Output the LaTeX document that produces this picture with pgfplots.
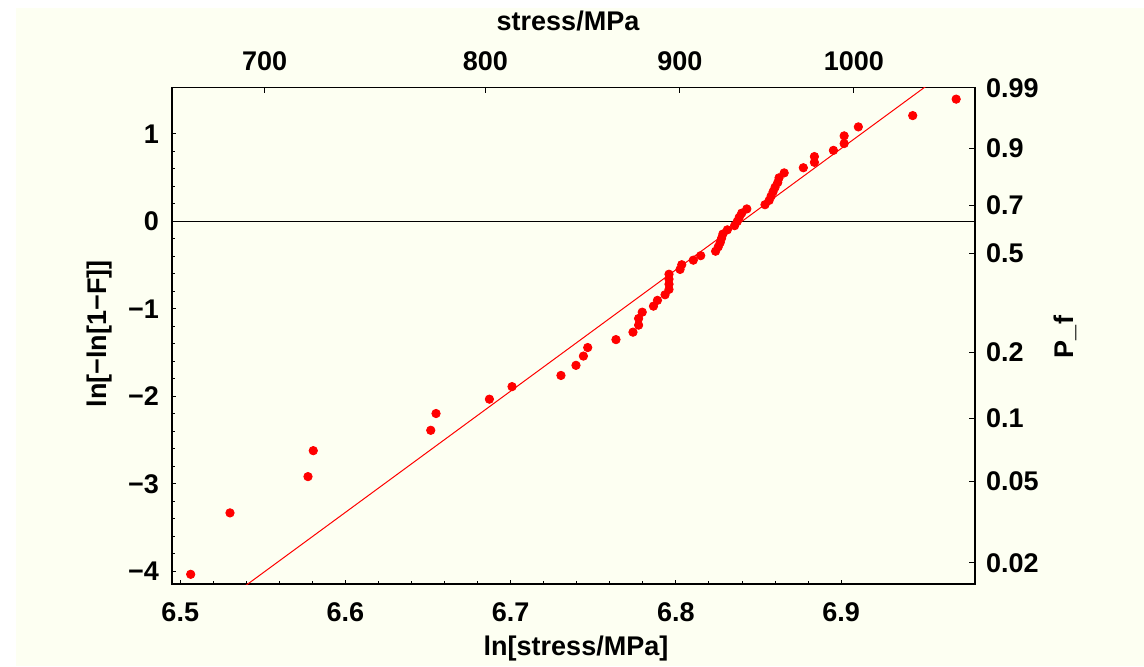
\documentclass[border=0pt]{standalone}
\usepackage{fontspec}
\setmainfont{Liberation Sans}
\usepackage{pgfplots}
\pgfplotsset{compat=1.18}
\definecolor{paper}{RGB}{253,255,242}
\definecolor{ptred}{RGB}{255,0,0}

\pgfplotsset{
  wb/.style={
    scale only axis, width=401.5pt, height=248.25pt,
    at={(86pt,41pt)}, anchor=south west,
    xmin=6.495, xmax=6.981, ymin=-4.145, ymax=1.53,
    tick align=inside,
    ticklabel style={font=\fontsize{13.5}{15}\selectfont\bfseries},
    axis line style={line width=0.6pt},
    major tick length=2.2pt, minor tick length=1.3pt,
    tick style={black, line width=0.5pt},
  }
}

\begin{document}
\begin{tikzpicture}[x=1pt,y=1pt]
\fill[white] (0,0) rectangle (572,333);
\fill[paper] (7.8,0) rectangle (572,329.2);

% top and right scales (stress in MPa, failure probability)
\begin{axis}[wb,
  xtick={6.551080,6.684612,6.802395,6.907755},
  xticklabels={700,800,900,1000},
  ytick={-3.901939,-2.970195,-2.250367,-1.499940,-0.366513,0.185627,0.834032,1.527180},
  yticklabels={0.02,0.05,0.1,0.2,0.5,0.7,0.9,0.99},
  xtick pos=right, ytick pos=right, xticklabel pos=right, yticklabel pos=right,
  major tick length=2.8pt,
  xticklabel style={yshift=5pt},
  yticklabel style={xshift=2pt},
  axis line style={draw=none}]
\end{axis}

\begin{axis}[wb,
  xtick={6.5,6.6,6.7,6.8,6.9}, xticklabels={6.5,6.6,6.7,6.8,6.9},
  ytick={-4,-3,-2,-1,0,1}, yticklabels={−4,−3,−2,−1,0,1},
  minor x tick num=4, minor y tick num=4,
  xtick pos=left, ytick pos=left,
  xticklabel style={yshift=-6pt},
  yticklabel style={xshift=-3pt}]
\draw[black, line width=0.6pt] (axis cs:6.495,0) -- (axis cs:6.981,0);
\addplot[ptred, line width=0.5pt] coordinates {(6.49,-4.850) (6.99,2.080)};
\addplot[only marks, mark=*, mark size=2.1pt, mark options={draw=ptred, fill=ptred}] coordinates {
(6.5063,-4.0342) (6.5301,-3.3321) (6.5773,-2.9175) (6.5805,-2.6207)
(6.6516,-2.3881) (6.6548,-2.1963) (6.6871,-2.0324) (6.7008,-1.8890)
(6.7304,-1.7612) (6.7395,-1.6456) (6.7440,-1.5399) (6.7466,-1.4423)
(6.7637,-1.3515) (6.7740,-1.2664) (6.7774,-1.1862) (6.7774,-1.1103)
(6.7796,-1.0380) (6.7864,-0.9690) (6.7888,-0.9027) (6.7934,-0.8390)
(6.7958,-0.7775) (6.7958,-0.7180) (6.7958,-0.6603) (6.7958,-0.6041)
(6.8025,-0.5493) (6.8035,-0.4958) (6.8105,-0.4434) (6.8150,-0.3919)
(6.8240,-0.3413) (6.8256,-0.2914) (6.8268,-0.2421) (6.8276,-0.1934)
(6.8284,-0.1450) (6.8311,-0.0970) (6.8355,-0.0492) (6.8371,-0.0015)
(6.8383,0.0462) (6.8398,0.0940) (6.8429,0.1421) (6.8539,0.1905)
(6.8564,0.2394) (6.8576,0.2889) (6.8588,0.3393) (6.8600,0.3907)
(6.8616,0.4435) (6.8624,0.4978) (6.8655,0.5541) (6.8771,0.6129)
(6.8838,0.6747) (6.8838,0.7405) (6.8953,0.8115) (6.9018,0.8893)
(6.9018,0.9771) (6.9104,1.0799) (6.9433,1.2089) (6.9696,1.3970)
};
\end{axis}

\node[font=\fontsize{13.5}{15}\selectfont\bfseries, anchor=base] at (288,5.3) {ln[stress/MPa]};
\node[font=\fontsize{13.5}{15}\selectfont\bfseries, anchor=base] at (284,317.5) {stress/MPa};
\node[font=\fontsize{13.5}{15}\selectfont\bfseries, rotate=90, anchor=center] at (50,166) {ln[−ln[1−F]]};
\node[font=\fontsize{13.5}{15}\selectfont\bfseries, rotate=90, anchor=center] at (532.5,164.5) {P\_f};
\pgfresetboundingbox
\useasboundingbox (0,0) rectangle (572,333);
\end{tikzpicture}
\end{document}
